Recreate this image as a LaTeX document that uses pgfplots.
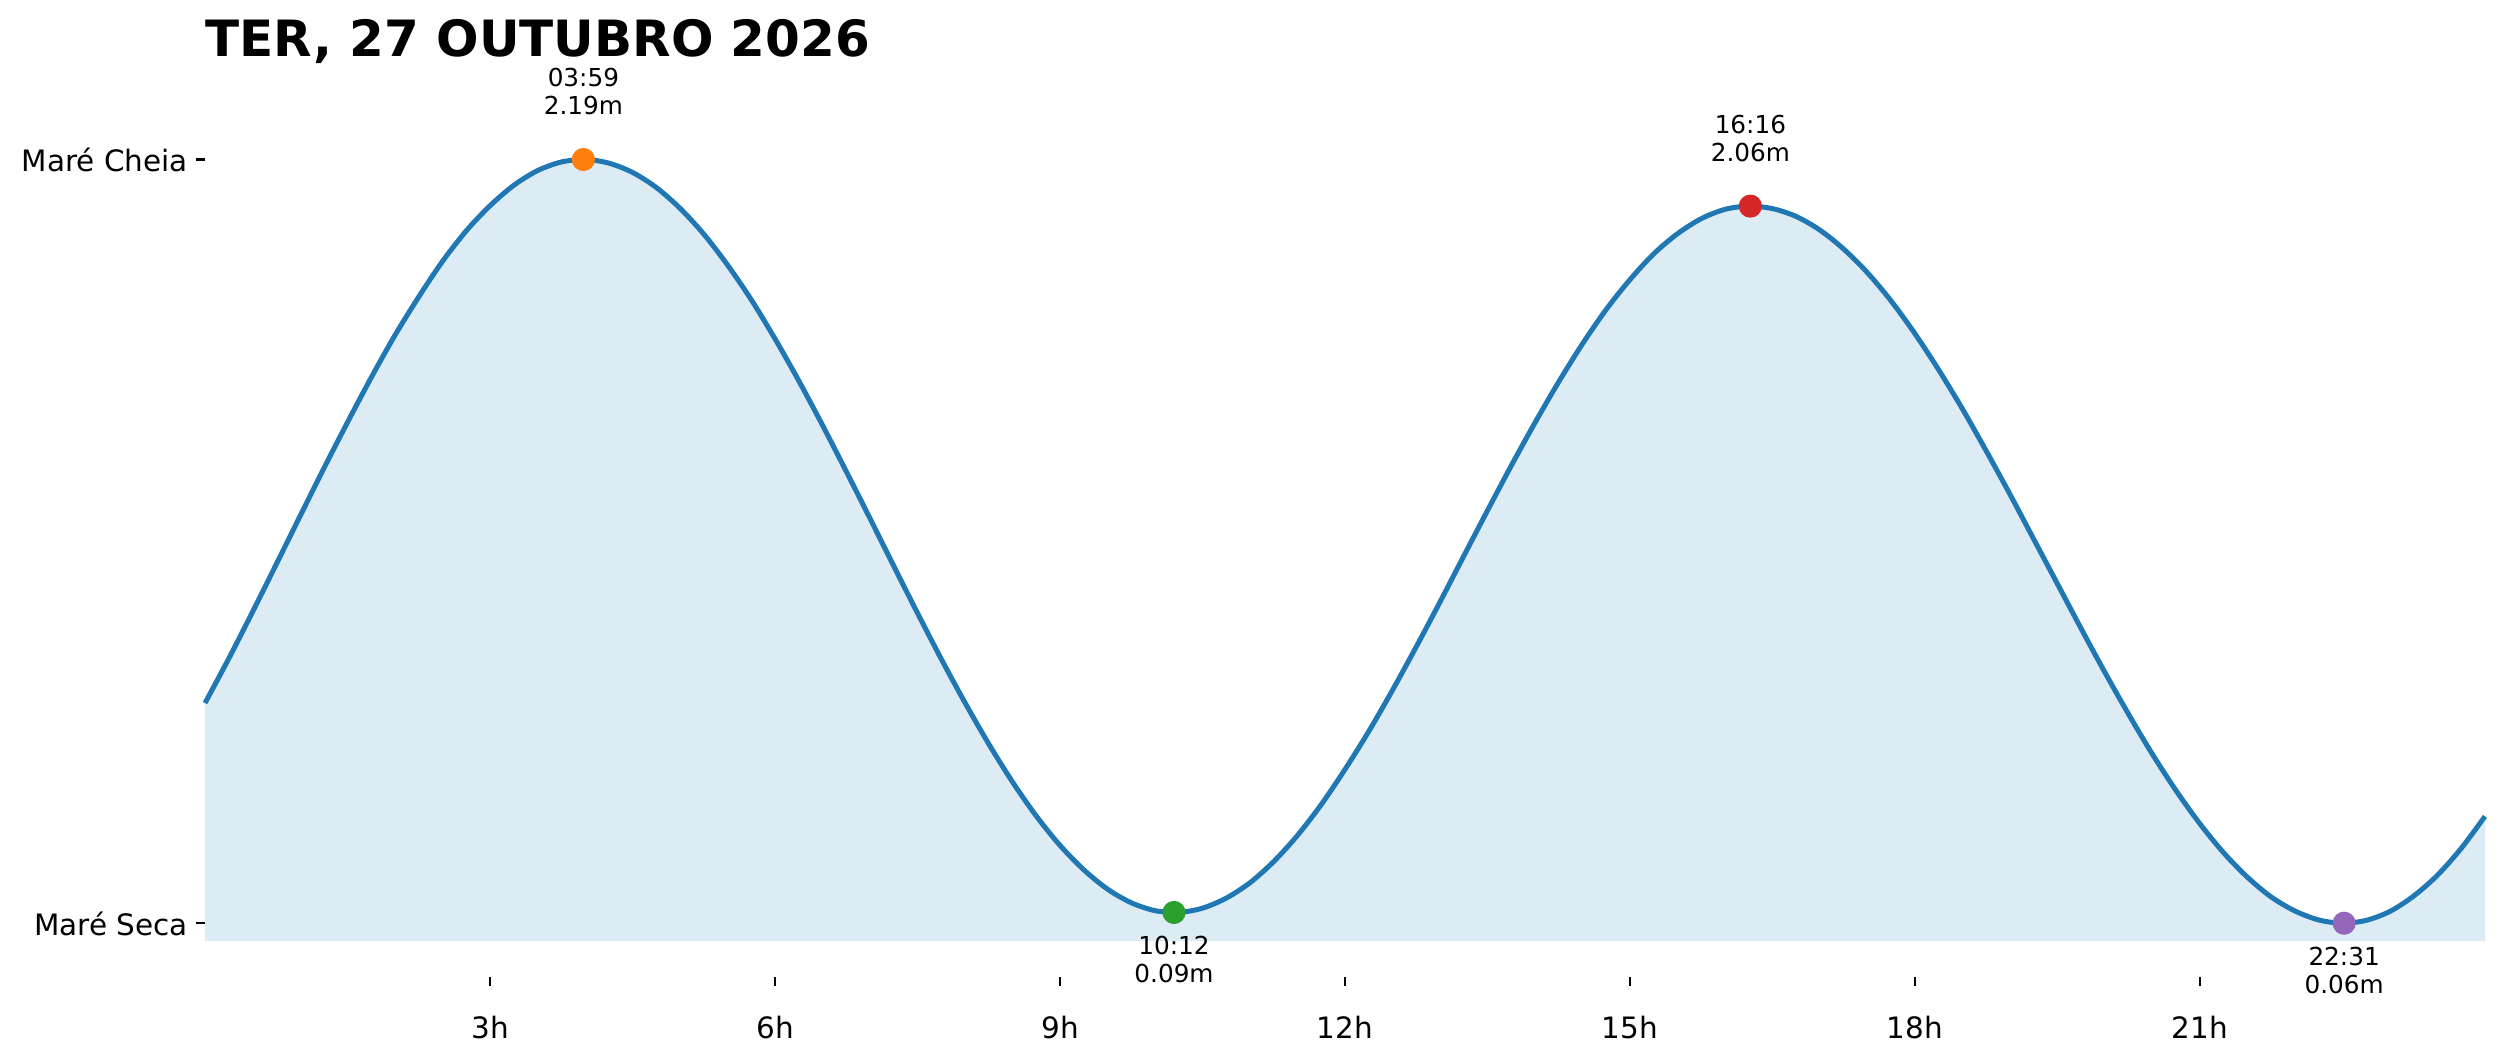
\documentclass[border=0pt]{standalone}
\usepackage{fontspec}
\setmainfont{DejaVu Sans}
\usepackage{pgfplots}
\usepackage{pgfplotstable}
\pgfplotsset{compat=1.18}
\usepgfplotslibrary{fillbetween}
\definecolor{tabblue}{HTML}{1F77B4}
\definecolor{fillblue}{HTML}{DDEBF4}
\definecolor{taborange}{HTML}{FF7F0E}
\definecolor{tabgreen}{HTML}{2CA02C}
\definecolor{tabred}{HTML}{D62728}
\definecolor{tabpurple}{HTML}{9467BD}
\newcommand{\ticksize}{\fontsize{10.6}{12.7}\selectfont}
\newcommand{\annsize}{\fontsize{8.9}{10.7}\selectfont}
\newcommand{\titlesize}{\fontsize{18}{21.6}\selectfont\bfseries}

\pgfplotstableread{
t h
0 0.674
0.25 0.798
0.5 0.928
0.75 1.061
1 1.195
1.25 1.328
1.5 1.457
1.75 1.582
2 1.700
2.25 1.807
2.5 1.906
2.75 1.991
3 2.061
3.25 2.118
3.5 2.159
3.75 2.183
4 2.190
4.25 2.180
4.5 2.154
4.75 2.112
5 2.054
5.25 1.982
5.5 1.896
5.75 1.799
6 1.690
6.25 1.573
6.5 1.449
6.75 1.320
7 1.189
7.25 1.056
7.5 0.925
7.75 0.797
8 0.675
8.25 0.560
8.5 0.454
8.75 0.359
9 0.277
9.25 0.209
9.5 0.155
9.75 0.117
10 0.095
10.25 0.090
10.5 0.102
10.75 0.130
11 0.173
11.25 0.232
11.5 0.305
11.75 0.391
12 0.489
12.25 0.595
12.5 0.710
12.75 0.831
13 0.956
13.25 1.084
13.5 1.211
13.75 1.336
14 1.456
14.25 1.570
14.5 1.676
14.75 1.772
15 1.855
15.25 1.927
15.5 1.983
15.75 2.025
16 2.051
16.25 2.060
16.5 2.053
16.75 2.031
17 1.993
17.25 1.940
17.5 1.874
17.75 1.795
18 1.704
18.25 1.603
18.5 1.494
18.75 1.377
19 1.256
19.25 1.131
19.5 1.006
19.75 0.881
20 0.759
20.25 0.642
20.5 0.531
20.75 0.429
21 0.337
21.25 0.256
21.5 0.188
21.75 0.133
22 0.094
22.25 0.069
22.5 0.060
22.75 0.068
23 0.093
23.25 0.136
23.5 0.194
23.75 0.269
24 0.358
}\tide

\begin{document}
\begin{tikzpicture}
\begin{axis}[
  at={(73.8pt,30.6pt)}, anchor=south west,
  scale only axis, width=820.8pt, height=307.2pt,
  xmin=0, xmax=24, ymin=-0.09, ymax=2.29,
  axis lines*=left, axis line style={draw=none},
  tick align=outside, major tick length=3.24pt,
  tick style={black, line width=0.75pt},
  minor tick num=0,
  xtick={3,6,9,12,15,18,21},
  xticklabels={3h,6h,9h,12h,15h,18h,21h},
  ytick={0.06,2.19},
  yticklabels={Maré Seca,Maré Cheia},
  xticklabel style={font=\ticksize, anchor=base, inner sep=0pt, yshift=-19pt},
  yticklabel style={font=\ticksize, anchor=base east, inner sep=0pt, xshift=-2.8pt, yshift=-4.32pt},
  clip=false,
]
\addplot[draw=none, smooth, name path=tide] table[x=t, y=h] {\tide};
\addplot[draw=none, name path=base] coordinates {(0,0.01) (24,0.01)};
\addplot[fill=fillblue, draw=none] fill between[of=tide and base];
\addplot[tabblue, line width=1.8pt, smooth] table[x=t, y=h] {\tide};

\addplot[only marks, mark=*, mark size=3.96pt, mark options={draw=taborange, fill=taborange}] coordinates {(3.983,2.19)};
\addplot[only marks, mark=*, mark size=3.96pt, mark options={draw=tabgreen, fill=tabgreen}] coordinates {(10.2,0.09)};
\addplot[only marks, mark=*, mark size=3.96pt, mark options={draw=tabred, fill=tabred}] coordinates {(16.267,2.06)};
\addplot[only marks, mark=*, mark size=3.96pt, mark options={draw=tabpurple, fill=tabpurple}] coordinates {(22.517,0.06)};

\node[anchor=base, inner sep=0pt, font=\annsize] at ([yshift=26.28pt]axis cs:3.983,2.19) {03:59};
\node[anchor=base, inner sep=0pt, font=\annsize] at ([yshift=16.2pt]axis cs:3.983,2.19) {2.19m};
\node[anchor=base, inner sep=0pt, font=\annsize] at ([yshift=26.28pt]axis cs:16.267,2.06) {16:16};
\node[anchor=base, inner sep=0pt, font=\annsize] at ([yshift=16.2pt]axis cs:16.267,2.06) {2.06m};
\node[anchor=base, inner sep=0pt, font=\annsize] at ([yshift=-15.3pt]axis cs:10.2,0.09) {10:12};
\node[anchor=base, inner sep=0pt, font=\annsize] at ([yshift=-25.2pt]axis cs:10.2,0.09) {0.09m};
\node[anchor=base, inner sep=0pt, font=\annsize] at ([yshift=-15.3pt]axis cs:22.517,0.06) {22:31};
\node[anchor=base, inner sep=0pt, font=\annsize] at ([yshift=-25.2pt]axis cs:22.517,0.06) {0.06m};
\end{axis}
\node[anchor=base west, inner sep=0pt, font=\titlesize] at (73.8pt,361.8pt) {TER, 27 OUTUBRO 2026};
\path (0,0) rectangle (900.36pt,382.32pt);
\end{tikzpicture}
\end{document}
